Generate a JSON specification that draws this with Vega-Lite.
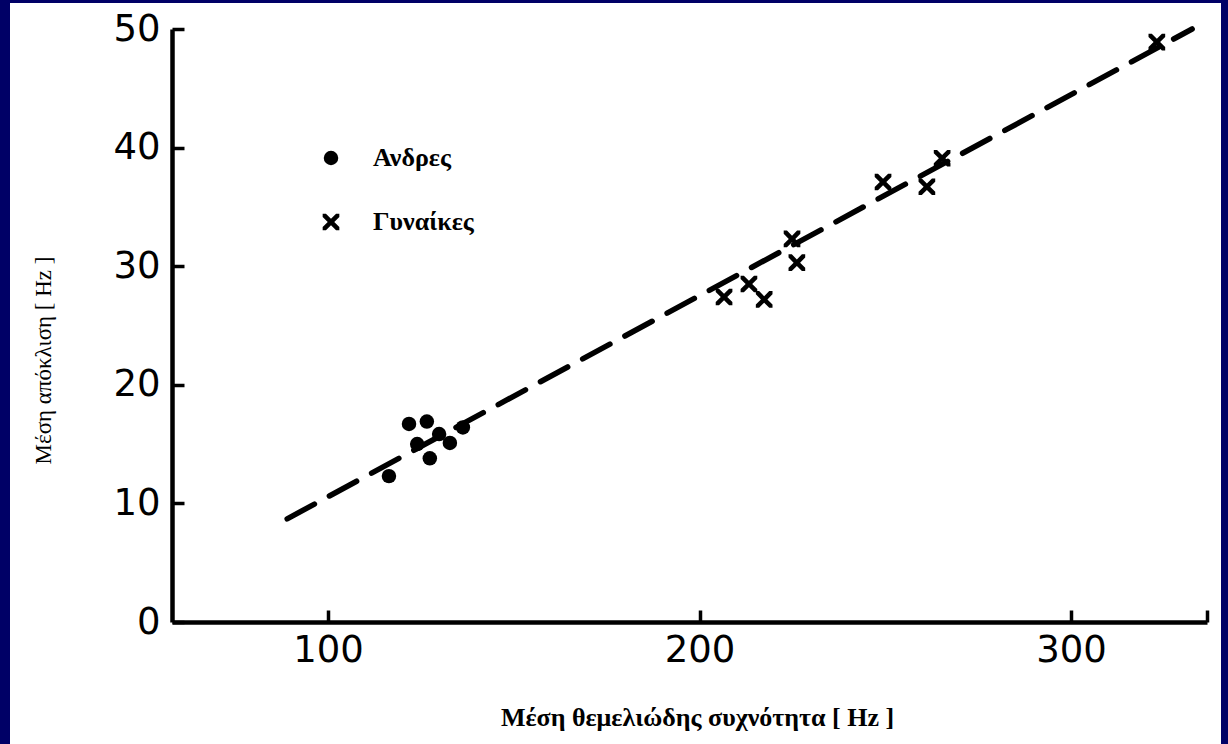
{
  "$schema": "https://vega.github.io/schema/vega-lite/v6.json",
  "width": 1211,
  "height": 741,
  "autosize": {"type": "none"},
  "padding": {"left": 10, "top": 3, "right": 7, "bottom": 0},
  "background": "#000066",
  "config": {"view": {"stroke": null, "fill": "white"}, "axis": {"grid": false, "zindex": 1}},
  "encoding": {
    "x": {
      "field": "f", "type": "quantitative",
      "scale": {"domain": [58, 336.6], "range": [162, 1197], "nice": false, "zero": false},
      "axis": {
        "offset": -122,
        "values": [100, 200, 300, 336.6],
        "labelExpr": "datum.value > 330 ? '' : datum.label",
        "tickSize": -12, "tickWidth": 3.5, "tickColor": "black",
        "domainColor": "black", "domainWidth": 4.5,
        "labelFont": "DejaVu Sans", "labelFontSize": 37, "labelColor": "black",
        "labelPadding": 22, "labelFlush": false, "labelOverlap": false,
        "title": "Μέση θεμελιώδης συχνότητα  [ Hz ]",
        "titleFont": "Liberation Serif", "titleFontSize": 26, "titleFontWeight": "bold", "titleColor": "black",
        "titleX": 687, "titleY": 103, "titleAlign": "center", "titleBaseline": "alphabetic", "titleAnchor": null
      }
    },
    "y": {
      "field": "d", "type": "quantitative",
      "scale": {"domain": [0, 50], "range": [619, 26], "nice": false, "zero": false},
      "axis": {
        "offset": -162,
        "values": [0, 10, 20, 30, 40, 50],
        "tickSize": -12, "tickWidth": 3.5, "tickColor": "black",
        "domainColor": "black", "domainWidth": 4.5,
        "labelFont": "DejaVu Sans", "labelFontSize": 37, "labelColor": "black",
        "labelPadding": 24, "labelFlush": false, "labelOverlap": false,
        "title": "Μέση απόκλιση [ Hz ]",
        "titleFont": "Liberation Serif", "titleFontSize": 23, "titleFontWeight": "normal", "titleColor": "black",
        "titleX": -129, "titleY": 357, "titleAngle": -90, "titleAlign": "center", "titleBaseline": "middle", "titleAnchor": null
      }
    }
  },
  "layer": [
    {
      "data": {"values": [{"f": 89, "d": 8.7}, {"f": 332.6, "d": 50}]},
      "mark": {"type": "line", "color": "black", "strokeWidth": 5.5, "strokeDash": [31, 17], "strokeCap": "round"}
    },
    {
      "data": {"values": [
        {"group": "Ανδρες", "f": 121.8, "d": 16.7},
        {"group": "Ανδρες", "f": 126.6, "d": 16.9},
        {"group": "Ανδρες", "f": 129.9, "d": 15.85},
        {"group": "Ανδρες", "f": 132.8, "d": 15.1},
        {"group": "Ανδρες", "f": 136.3, "d": 16.4},
        {"group": "Ανδρες", "f": 124.0, "d": 15.0},
        {"group": "Ανδρες", "f": 127.4, "d": 13.8},
        {"group": "Ανδρες", "f": 116.4, "d": 12.3},
        {"group": "Γυναίκες", "f": 206.6, "d": 27.4},
        {"group": "Γυναίκες", "f": 213.3, "d": 28.5},
        {"group": "Γυναίκες", "f": 217.4, "d": 27.2},
        {"group": "Γυναίκες", "f": 224.9, "d": 32.3},
        {"group": "Γυναίκες", "f": 226.2, "d": 30.3},
        {"group": "Γυναίκες", "f": 249.4, "d": 37.1},
        {"group": "Γυναίκες", "f": 261.2, "d": 36.7},
        {"group": "Γυναίκες", "f": 265.3, "d": 39.1},
        {"group": "Γυναίκες", "f": 323.1, "d": 48.9}
      ]},
      "mark": {"type": "point", "filled": true, "color": "black", "opacity": 1, "size": 210},
      "encoding": {
        "shape": {
          "field": "group", "type": "nominal",
          "scale": {"domain": ["Ανδρες", "Γυναίκες"], "range": ["circle", "M0,-0.45L0.7,-1.15L1.15,-1.15L1.15,-0.7L0.45,0L1.15,0.7L1.15,1.15L0.7,1.15L0,0.45L-0.7,1.15L-1.15,1.15L-1.15,0.7L-0.45,0L-1.15,-0.7L-1.15,-1.15L-0.7,-1.15Z"]},
          "legend": {
            "title": null, "orient": "none", "legendX": 308, "legendY": 142,
            "padding": 0, "rowPadding": 38, "labelOffset": 29,
            "labelFont": "Liberation Serif", "labelFontSize": 26, "labelFontWeight": "bold", "labelColor": "black",
            "symbolFillColor": "black", "symbolStrokeColor": "black", "symbolStrokeWidth": 0, "symbolSize": 210,
            "symbolOpacity": 1, "zindex": 1
          }
        }
      }
    }
  ]
}
